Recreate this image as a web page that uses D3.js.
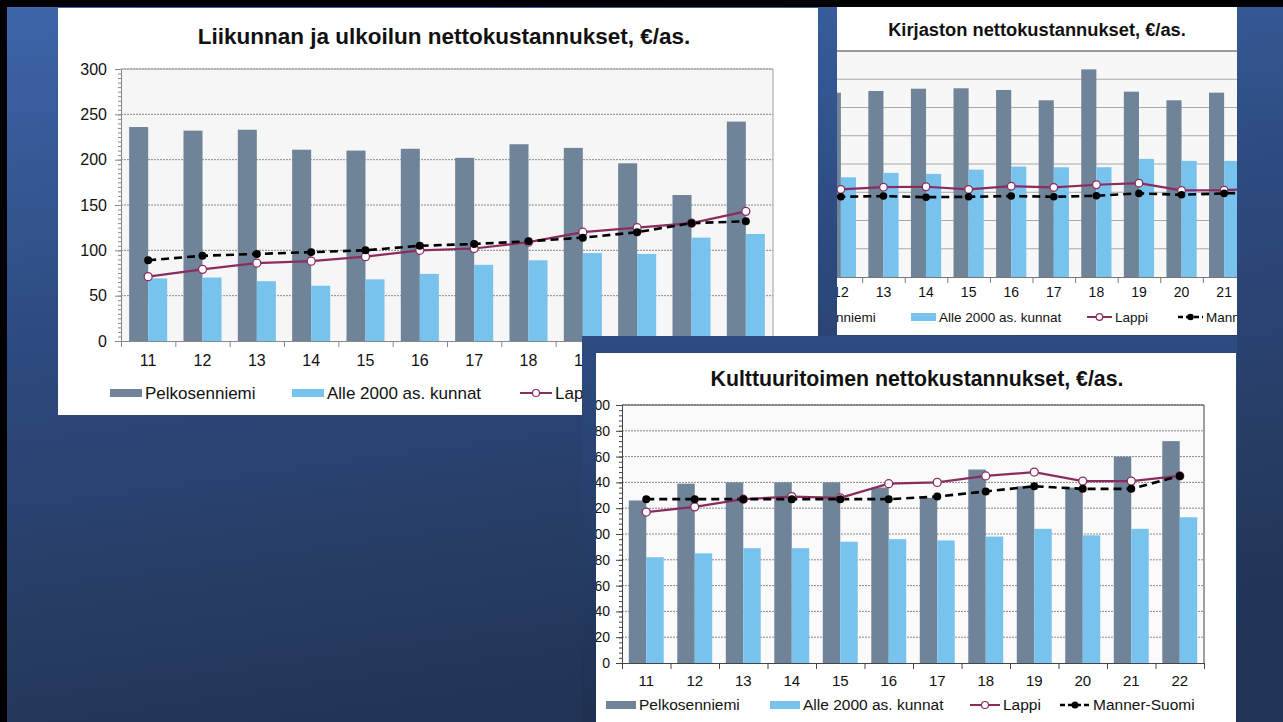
<!DOCTYPE html>
<html>
<head>
<meta charset="utf-8">
<script src="https://cdn.jsdelivr.net/npm/d3@7"></script>
<style>
  body { margin: 0; background: #000; overflow: hidden; }
  svg { display: block; font-family: "Liberation Sans", Arial, sans-serif; }
</style>
</head>
<body>
<svg id="slide" width="1283" height="722"></svg>
<script>
// categories (years 2011-2022)
const years = ["11", "12", "13", "14", "15", "16", "17", "18", "19", "20", "21", "22"];
const seriesNames = ["Pelkosenniemi", "Alle 2000 as. kunnat", "Lappi", "Manner-Suomi"];

// Liikunnan ja ulkoilun nettokustannukset
const liikuntaPelko = [236, 232, 233, 211, 210, 212, 202, 217, 213, 196, 161, 242];
const liikuntaAlle = [69, 70, 66, 61, 68, 74, 84, 89, 97, 96, 114, 118];
const liikuntaLappi = [71, 79, 86, 88, 93, 100, 102, 109, 120, 125, 130, 143];
const liikuntaManner = [89, 94, 96, 98, 100, 105, 107, 110, 114, 120, 130, 132];
const liikuntaTicks = [0, 50, 100, 150, 200, 250, 300];

// Kirjaston nettokustannukset
const kirjastoPelko = [130, 130.5, 131.7, 133.3, 133.6, 132.4, 125.1, 147, 131.2, 125.1, 130.5, 133];
const kirjastoAlle = [70, 70.6, 73.7, 73, 76, 78.2, 77.7, 77.7, 83.6, 82.2, 82.2, 84];
const kirjastoLappi = [61, 62, 63.6, 63.9, 62, 64.3, 63.4, 65.3, 66.4, 61.3, 61.5, 62.5];
const kirjastoManner = [56.5, 56.8, 57.3, 56.5, 56.8, 57.3, 56.8, 57.5, 59.2, 58.2, 59.2, 60];
const kirjastoTicks = [0, 20, 40, 60, 80, 100, 120, 140, 160];

// Kulttuuritoimen nettokustannukset
const kulttuuriPelko = [126, 139, 140, 140, 140, 136, 128, 150, 137, 136, 160, 172];
const kulttuuriAlle = [82, 85, 89, 89, 94, 96, 95, 98, 104, 99, 104, 113];
const kulttuuriLappi = [117, 121, 127, 129, 128, 139, 140, 145, 148, 141, 141, 145];
const kulttuuriManner = [127, 127, 127, 127, 127, 127, 129, 133, 137, 135, 135, 145];
const kulttuuriTicks = [0, 20, 40, 60, 80, 100, 120, 140, 160, 180, 200];

const colDark = "#6f8499";
const colLight = "#78c2ee";
const colLappi = "#8a2c60";

const svg = d3.select("#slide");
const defs = svg.append("defs");

// slide background
const bg = defs.append("linearGradient").attr("id", "bgGrad")
  .attr("x1", 0).attr("y1", 0).attr("x2", 0.25).attr("y2", 1);
bg.append("stop").attr("offset", "0%").attr("stop-color", "#3d65a9");
bg.append("stop").attr("offset", "45%").attr("stop-color", "#2d4a7f");
bg.append("stop").attr("offset", "100%").attr("stop-color", "#233556");

const frameGrad = defs.append("linearGradient").attr("id", "frameGrad")
  .attr("x1", 0).attr("y1", 0).attr("x2", 0).attr("y2", 1);
frameGrad.append("stop").attr("offset", "0%").attr("stop-color", "#2d4c82");
frameGrad.append("stop").attr("offset", "100%").attr("stop-color", "#1f3050");

svg.append("rect").attr("width", 1283).attr("height", 722).attr("fill", "#000");
svg.append("rect").attr("x", 7).attr("y", 7).attr("width", 1276).attr("height", 715).attr("fill", "url(#bgGrad)");

function addClip(id, x, y, w, h) {
  defs.append("clipPath").attr("id", id)
    .append("rect").attr("x", x).attr("y", y).attr("width", w).attr("height", h);
}

function drawChart(g, c) {
  const x = d3.scaleBand().domain(years).range([c.left, c.left + c.width]);
  const y = d3.scaleLinear().domain([0, c.max]).range([c.top + c.height, c.top]);
  const bw = x.bandwidth() * c.barFrac;
  const cx = (d, i) => x(years[i]) + x.bandwidth() / 2;

  // plot area
  g.append("rect")
    .attr("x", c.left).attr("y", c.top)
    .attr("width", c.width).attr("height", c.height)
    .attr("fill", c.plotFill);

  // gridlines
  g.append("g").selectAll("line")
    .data(c.ticks.slice(1))
    .join("line")
    .attr("x1", c.left).attr("x2", c.left + c.width)
    .attr("y1", d => y(d)).attr("y2", d => y(d))
    .attr("stroke", c.gridColor)
    .attr("stroke-width", 1)
    .attr("stroke-dasharray", c.gridDash);

  // right border
  g.append("line")
    .attr("x1", c.left + c.width).attr("x2", c.left + c.width)
    .attr("y1", c.top).attr("y2", c.top + c.height)
    .attr("stroke", c.borderColor);

  // bars
  g.append("g").selectAll("rect")
    .data(c.pelko)
    .join("rect")
    .attr("x", (d, i) => cx(d, i) - bw)
    .attr("y", d => y(d))
    .attr("width", bw)
    .attr("height", d => y(0) - y(d))
    .attr("fill", colDark);
  g.append("g").selectAll("rect")
    .data(c.alle)
    .join("rect")
    .attr("x", (d, i) => cx(d, i))
    .attr("y", d => y(d))
    .attr("width", bw)
    .attr("height", d => y(0) - y(d))
    .attr("fill", colLight);

  // y axis with minor ticks
  const minor = g.append("g")
    .attr("transform", "translate(" + c.left + ",0)")
    .call(d3.axisLeft(y).tickValues(d3.range(0, c.max + 0.01, c.minor)).tickSize(3).tickFormat(""));
  minor.select(".domain").remove();
  minor.selectAll("line").attr("stroke", c.axisColor);

  const yAxis = g.append("g")
    .attr("transform", "translate(" + c.left + ",0)")
    .call(d3.axisLeft(y).tickValues(c.ticks).tickSize(6).tickSizeOuter(0).tickPadding(c.yPad));
  yAxis.select(".domain").attr("stroke", c.axisColor);
  yAxis.selectAll("line").attr("stroke", c.axisColor);
  yAxis.selectAll("text").attr("fill", "#111").style("font-size", c.yFont + "px");

  // x axis: ticks on band boundaries, labels in the middle
  const xIdx = d3.scaleLinear().domain([0, years.length]).range([c.left, c.left + c.width]);
  const xTicks = g.append("g")
    .attr("transform", "translate(0," + (c.top + c.height) + ")")
    .call(d3.axisBottom(xIdx).tickValues(d3.range(0, years.length + 1)).tickSize(6).tickSizeOuter(0).tickFormat(""));
  xTicks.select(".domain").attr("stroke", c.axisColor);
  xTicks.selectAll("line").attr("stroke", c.axisColor);

  const xLabels = g.append("g")
    .attr("transform", "translate(0," + (c.top + c.height) + ")")
    .call(d3.axisBottom(x).tickSize(0).tickPadding(c.xPad));
  xLabels.select(".domain").remove();
  xLabels.selectAll("text").attr("fill", "#111").style("font-size", c.xFont + "px");

  // lines
  const line = d3.line().x(cx).y(d => y(d));
  g.append("path").datum(c.lappi)
    .attr("d", line).attr("fill", "none")
    .attr("stroke", colLappi).attr("stroke-width", 2.2);
  g.append("path").datum(c.manner)
    .attr("d", line).attr("fill", "none")
    .attr("stroke", "#000").attr("stroke-width", 2.6)
    .attr("stroke-dasharray", "8,5");
  g.append("g").selectAll("circle")
    .data(c.lappi)
    .join("circle")
    .attr("cx", cx).attr("cy", d => y(d)).attr("r", c.r)
    .attr("fill", "#fff").attr("stroke", colLappi).attr("stroke-width", 1.3);
  g.append("g").selectAll("circle")
    .data(c.manner)
    .join("circle")
    .attr("cx", cx).attr("cy", d => y(d)).attr("r", c.r)
    .attr("fill", "#000");

  // title
  g.append("text")
    .attr("x", c.titleX).attr("y", c.titleY)
    .attr("text-anchor", "middle")
    .style("font-size", c.titleFont + "px").style("font-weight", "bold")
    .attr("fill", "#111")
    .text(c.title);

  // legend
  const lg = g.append("g").style("font-size", c.legFont + "px");
  c.legX.forEach((lx, i) => {
    const item = lg.append("g").attr("transform", "translate(" + lx + "," + c.legY + ")");
    if (i < 2) {
      item.append("rect").attr("x", 0).attr("y", -4).attr("width", c.swW).attr("height", 8)
        .attr("fill", i === 0 ? colDark : colLight);
    } else if (i === 2) {
      item.append("line").attr("x1", 0).attr("x2", c.swW).attr("stroke", colLappi).attr("stroke-width", 2);
      item.append("circle").attr("cx", c.swW / 2).attr("r", c.r - 0.5)
        .attr("fill", "#fff").attr("stroke", colLappi).attr("stroke-width", 1.2);
    } else {
      item.append("line").attr("x1", 0).attr("x2", c.swW).attr("stroke", "#000").attr("stroke-width", 2.4)
        .attr("stroke-dasharray", "5,3");
      item.append("circle").attr("cx", c.swW / 2).attr("r", c.r - 0.5).attr("fill", "#000");
    }
    item.append("text").attr("x", c.swW + 3).attr("dy", "0.35em").attr("fill", "#111").text(seriesNames[i]);
  });
}

// panel 2: Kirjasto (right, cropped)
addClip("clipKirjasto", 837, 7, 400, 328);
svg.append("rect").attr("x", 837).attr("y", 7).attr("width", 400).attr("height", 328).attr("fill", "#fff");
const pKirjasto = svg.append("g").attr("clip-path", "url(#clipKirjasto)");
drawChart(pKirjasto, {
  title: "Kirjaston nettokustannukset, €/as.", titleX: 1037, titleY: 36, titleFont: 18.3,
  left: 777, top: 51, width: 511, height: 226, max: 160, ticks: kirjastoTicks, minor: 4,
  pelko: kirjastoPelko, alle: kirjastoAlle, lappi: kirjastoLappi, manner: kirjastoManner,
  barFrac: 0.355, plotFill: "#f7f7f7", gridColor: "#a8a8a8", gridDash: null,
  borderColor: "#999", axisColor: "#777", yFont: 14, yPad: 4, xFont: 14, xPad: 10, r: 3.8,
  legX: [760, 911, 1087, 1178], legY: 317, legFont: 13.5, swW: 25
});
// top border line of kirjasto plot
pKirjasto.append("line").attr("x1", 777).attr("x2", 1288).attr("y1", 51).attr("y2", 51)
  .attr("stroke", "#888").attr("stroke-width", 1.5);

// panel 1: Liikunta (left); its last legend entry sits under panel 3
svg.append("rect").attr("x", 58).attr("y", 8).attr("width", 760).attr("height", 407).attr("fill", "#fff");
const pLiikunta = svg.append("g");
drawChart(pLiikunta, {
  title: "Liikunnan ja ulkoilun nettokustannukset, €/as.", titleX: 444, titleY: 44, titleFont: 22.5,
  left: 121, top: 69, width: 652, height: 272, max: 300, ticks: liikuntaTicks, minor: 5,
  pelko: liikuntaPelko, alle: liikuntaAlle, lappi: liikuntaLappi, manner: liikuntaManner,
  barFrac: 0.35, plotFill: "#f6f6f6", gridColor: "#8a8a8a", gridDash: "2,1",
  borderColor: "#a0a0a0", axisColor: "#888", yFont: 16, yPad: 8, xFont: 16, xPad: 14, r: 4,
  legX: [110, 292, 520], legY: 393, legFont: 17, swW: 32
});
pLiikunta.append("line").attr("x1", 121).attr("x2", 773).attr("y1", 69).attr("y2", 69)
  .attr("stroke", "#a0a0a0");

// panel 3: Kulttuuri (front)
svg.append("rect").attr("x", 582).attr("y", 336).attr("width", 655).attr("height", 386).attr("fill", "url(#frameGrad)");
addClip("clipKulttuuri", 596, 353, 640, 369);
svg.append("rect").attr("x", 596).attr("y", 353).attr("width", 640).attr("height", 369).attr("fill", "#fff");
const pKulttuuri = svg.append("g").attr("clip-path", "url(#clipKulttuuri)");
drawChart(pKulttuuri, {
  title: "Kulttuuritoimen nettokustannukset, €/as.", titleX: 917, titleY: 386, titleFont: 21.3,
  left: 622, top: 405, width: 582, height: 258, max: 200, ticks: kulttuuriTicks, minor: 4,
  pelko: kulttuuriPelko, alle: kulttuuriAlle, lappi: kulttuuriLappi, manner: kulttuuriManner,
  barFrac: 0.36, plotFill: "#fafafa", gridColor: "#8a8a8a", gridDash: "2,1",
  borderColor: "#444", axisColor: "#444", yFont: 14, yPad: 6, xFont: 15, xPad: 12, r: 4,
  legX: [606, 770, 970, 1060], legY: 705, legFont: 15.5, swW: 30
});
pKulttuuri.append("line").attr("x1", 622).attr("x2", 1204).attr("y1", 405).attr("y2", 405)
  .attr("stroke", "#444");
</script>
</body>
</html>
